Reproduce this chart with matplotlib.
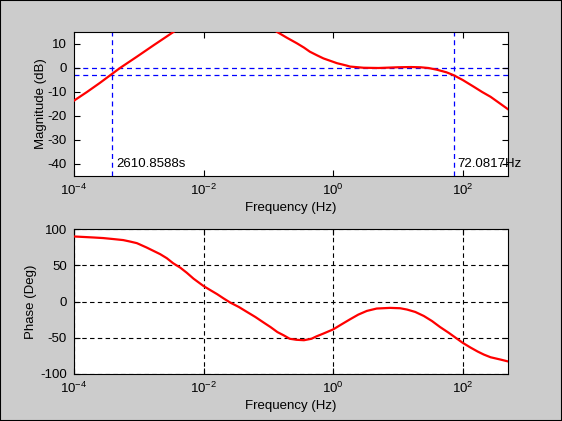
import matplotlib
matplotlib.use("Agg")
import matplotlib.pyplot as plt
import numpy as np
from matplotlib.patches import Rectangle
from matplotlib.ticker import FixedLocator, NullLocator

plt.rcParams['font.family'] = ['Liberation Sans', 'DejaVu Sans']
plt.rcParams['mathtext.default'] = 'regular'
plt.rcParams['axes.unicode_minus'] = False
plt.rcParams['font.size'] = 9.5

# ---- data (frequency given as log10(Hz)) ----
mag_logf = [-4.0, -3.8, -3.6, -3.44, -3.29, -3.03, -2.77, -2.46, -2.2, -2.0,
            -1.7, -1.4, -1.2, -1.0, -0.87, -0.72, -0.56, -0.45, -0.36, -0.25,
            -0.15, 0.06, 0.21, 0.26, 0.47, 0.7, 1.0, 1.2, 1.35, 1.47,
            1.6, 1.75, 1.86, 2.0, 2.17, 2.3, 2.43, 2.56, 2.7]
mag_db = [-13.6, -10.0, -6.2, -3.0, 0.0, 4.7, 9.5, 15.1, 19.5, 22.0,
          24.5, 23.5, 21.3, 17.2, 15.1, 12.7, 10.3, 8.5, 6.8, 5.3,
          4.0, 2.0, 1.0, 0.6, 0.1, 0.0, 0.3, 0.4, 0.3, 0.0,
          -0.7, -1.8, -3.0, -5.0, -7.8, -10.0, -12.0, -14.5, -17.2]

ph_logf = [-4.0, -3.7, -3.55, -3.39, -3.24, -3.14, -3.03, -2.88, -2.775, -2.67,
           -2.567, -2.47, -2.36, -2.26, -2.155, -2.0, -1.896, -1.79, -1.69, -1.59,
           -1.457, -1.33, -1.2, -1.07, -0.966, -0.86, -0.76, -0.67, -0.567, -0.45,
           -0.335, -0.26, -0.155, 0.0, 0.13, 0.26, 0.388, 0.52, 0.672, 0.88,
           1.034, 1.14, 1.267, 1.40, 1.525, 1.65, 1.783, 1.913, 2.0, 2.12,
           2.23, 2.326, 2.43, 2.584, 2.71]
ph_deg = [89.7, 88.3, 87.5, 86.1, 84.7, 82.8, 80.5, 74.5, 69.9, 65.3,
          59.7, 52.8, 46.7, 39.7, 31.5, 21.3, 15.7, 10.1, 4.2, -1.4,
          -7.5, -14.4, -21.4, -29.2, -35.3, -42.2, -46.8, -51.4, -52.8, -53.4,
          -51.4, -48.2, -44.4, -38.5, -31.5, -24.6, -18.1, -13.0, -9.7, -8.8,
          -9.3, -11.1, -14.4, -20.0, -26.9, -35.2, -43.1, -51.4, -57.0, -63.5,
          -69.0, -73.2, -76.9, -80.1, -82.9]

cutoff_low_s = 2610.8588      # time constant (s) -> marker at 1/T Hz
cutoff_high_hz = 72.0817
mag_yticks = [-40, -30, -20, -10, 0, 10]
ph_yticks = [-100, -50, 0, 50, 100]
xticks = [1e-4, 1e-2, 1e0, 1e2]
xlim = (1e-4, 500)

mag_freq = np.power(10.0, mag_logf)
ph_freq = np.power(10.0, ph_logf)

W, H = 562, 421
fig = plt.figure(figsize=(W / 100, H / 100), dpi=100, facecolor='#cccccc')
fig.patches.append(Rectangle((0, 0), 1, 1, transform=fig.transFigure,
                             fill=False, edgecolor='black', linewidth=1.5))

def px_axes(left, top, right, bottom):
    return fig.add_axes([left / W, 1 - bottom / H, (right - left) / W, (bottom - top) / H])

def style(ax, yticks):
    ax.set_xscale('log')
    ax.set_xlim(*xlim)
    ax.xaxis.set_major_locator(FixedLocator(xticks))
    ax.xaxis.set_minor_locator(NullLocator())
    ax.set_yticks(yticks)
    ax.tick_params(direction='in', top=True, right=True, length=4, width=0.8,
                   labelsize=9.5, colors='black', pad=5)
    for s in ax.spines.values():
        s.set_linewidth(0.8)
    ax.set_xlabel('Frequency (Hz)', fontsize=9.5, labelpad=3)

dash = (0, (4, 3))

# Magnitude
ax1 = px_axes(74, 32, 508, 176)
style(ax1, mag_yticks)
ax1.set_ylim(-45, 15)
f_low = 1.0 / cutoff_low_s
ax1.axhline(0, color='#0000ff', lw=0.9, ls=dash, zorder=1)
ax1.axhline(-3, color='#0000ff', lw=0.9, ls=dash, zorder=1)
ax1.axvline(f_low, color='#0000ff', lw=0.9, ls=dash, zorder=1)
ax1.axvline(cutoff_high_hz, color='#0000ff', lw=0.9, ls=dash, zorder=1)
ax1.plot(mag_freq, mag_db, color='#ff0000', lw=1.6, zorder=3)
ax1.annotate(f'{cutoff_low_s:.4f}s', (f_low, -40), xytext=(3, 0),
             textcoords='offset points', va='center', ha='left', fontsize=9.5)
ax1.annotate(f'{cutoff_high_hz:.4f}Hz', (cutoff_high_hz, -40), xytext=(3, 0),
             textcoords='offset points', va='center', ha='left', fontsize=9.5,
             annotation_clip=False)
ax1.set_ylabel('Magnitude (dB)', fontsize=9.5, labelpad=0.5)

# Phase
ax2 = px_axes(74, 229, 508, 374)
style(ax2, ph_yticks)
ax2.set_ylim(-100, 100)
ax2.grid(True, which='major', color='black', lw=0.8, ls=dash)
ax2.plot(ph_freq, ph_deg, color='#ff0000', lw=1.6, zorder=3)
ax2.set_ylabel('Phase (Deg)', fontsize=9.5, labelpad=2.5)

fig.savefig('out.png', dpi=100, facecolor=fig.get_facecolor())
